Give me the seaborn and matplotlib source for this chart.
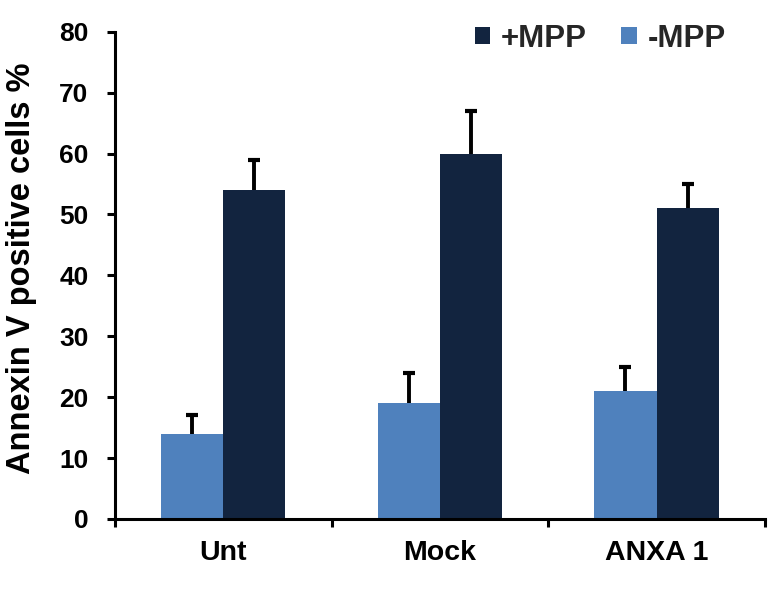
import numpy as np
import pandas as pd
import matplotlib
matplotlib.use("Agg")
import matplotlib.pyplot as plt
from matplotlib.patches import Patch
from matplotlib.ticker import FixedLocator
import seaborn as sns

categories = ["Unt", "Mock", "ANXA 1"]
minus_mpp = [14, 19, 21]
minus_err = [3, 5, 4]
plus_mpp = [54, 60, 51]
plus_err = [5, 7, 4]
series = ["-MPP", "+MPP"]
legend_order = ["+MPP", "-MPP"]
colors = {"-MPP": "#4F81BD", "+MPP": "#12243F"}
y_ticks = [0, 10, 20, 30, 40, 50, 60, 70, 80]

sns.set_theme(style="white")
plt.rcParams["font.family"] = ["Liberation Sans", "DejaVu Sans"]
plt.rcParams["font.weight"] = "bold"

df = pd.DataFrame({
    "cat": categories * 2,
    "grp": ["-MPP"] * 3 + ["+MPP"] * 3,
    "val": minus_mpp + plus_mpp,
})
errs = {"-MPP": minus_err, "+MPP": plus_err}
vals = {"-MPP": minus_mpp, "+MPP": plus_mpp}

fig = plt.figure(figsize=(7.71, 5.89), dpi=100)
ax = fig.add_axes([0.149, 0.119, 0.843, 0.827])

sns.barplot(data=df, x="cat", y="val", hue="grp", order=categories,
            hue_order=series, palette=colors, width=0.575, saturation=1,
            errorbar=None, legend=False, linewidth=0, ax=ax)

for i, s in enumerate(series):
    cont = ax.containers[i]
    xs = [b.get_x() + b.get_width() / 2 for b in cont]
    _, caps, _ = ax.errorbar(xs, vals[s], yerr=[np.zeros(len(xs)), errs[s]],
                             fmt="none", ecolor="black", elinewidth=2.8,
                             capsize=4.5, capthick=3.0, zorder=1)
    if len(caps) == 2:
        caps[0].set_visible(False)

ax.set_xlim(-0.5, 2.5)
ax.set_ylim(0, 80)
ax.set_yticks(y_ticks)
ax.set_yticklabels([str(t) for t in y_ticks])
ax.xaxis.set_minor_locator(FixedLocator([-0.5, 0.5, 1.5, 2.5]))
ax.tick_params(axis="x", which="major", length=0, pad=15, labelsize=20.5)
ax.tick_params(axis="x", which="minor", length=6, width=2.2, direction="out",
               bottom=True, color="black")
ax.tick_params(axis="y", which="major", length=6, width=2.2, direction="out",
               left=True, color="black", labelsize=19, pad=13)
for lab in ax.get_xticklabels() + ax.get_yticklabels():
    lab.set_fontweight("bold")
    lab.set_color("black")

ax.set_xlabel("")
ax.set_ylabel("Annexin V positive cells %", fontsize=23.5, fontweight="bold",
              color="black")
ax.yaxis.set_label_coords(-0.12, 0.515)

for side in ["top", "right"]:
    ax.spines[side].set_visible(False)
for side in ["left", "bottom"]:
    ax.spines[side].set_color("black")
    ax.spines[side].set_linewidth(2.2)

handles = [Patch(facecolor=colors[s], edgecolor="none", label=s) for s in legend_order]
fig.legend(handles=handles, loc="upper right", bbox_to_anchor=(0.942, 0.96),
           ncol=2, frameon=False, borderpad=0, borderaxespad=0,
           prop={"family": "Liberation Sans", "weight": "bold", "size": 22.5},
           handlelength=0.5, handleheight=0.5, handletextpad=0.35, columnspacing=1.1)

fig.savefig("out.png", dpi=100)
